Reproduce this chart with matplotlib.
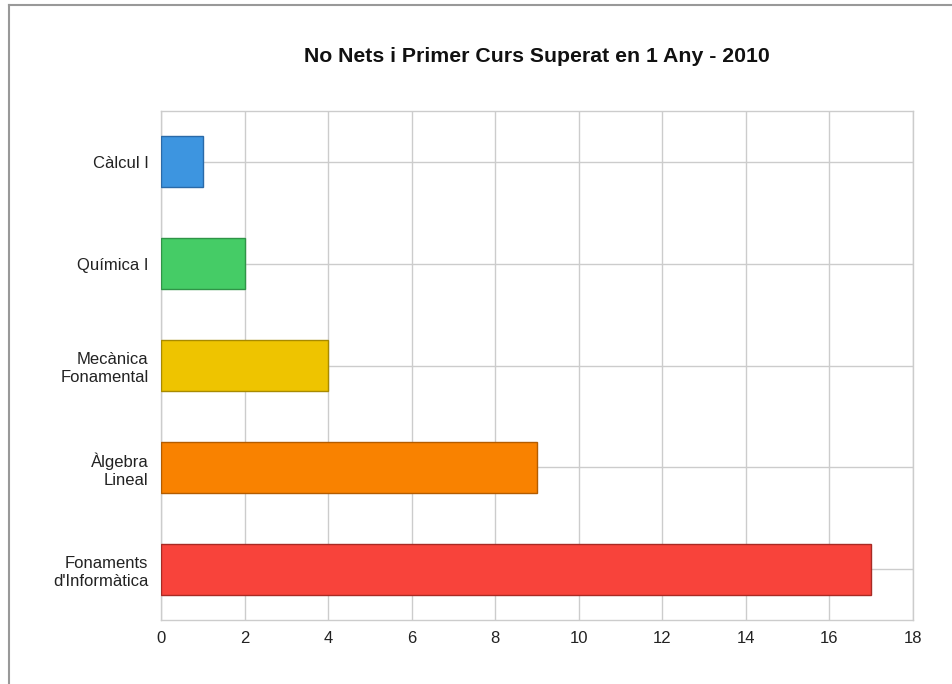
import matplotlib
matplotlib.use("Agg")
import matplotlib.pyplot as plt
from matplotlib.lines import Line2D

plt.rcParams['font.family'] = ['Liberation Sans', 'DejaVu Sans']

categories = ["Càlcul I", "Química I", "Mecànica\nFonamental", "Àlgebra\nLineal", "Fonaments\nd'Informàtica"]
values = [1, 2, 4, 9, 17]
colors = ["#3d95e0", "#45cc66", "#eec400", "#f98200", "#f8433b"]
edges = ["#2a6aa8", "#2f9447", "#a88a00", "#b35c00", "#a82a24"]
xticks = [0, 2, 4, 6, 8, 10, 12, 14, 16, 18]
title = "No Nets i Primer Curs Superat en 1 Any - 2010"

fig = plt.figure(figsize=(9.53, 6.84), dpi=100)
ax = fig.add_axes([161 / 953, 1 - 620 / 684, (913 - 161) / 953, (620 - 111) / 684])

ypos = list(range(len(categories)))
ax.barh(ypos, values, height=0.5, color=colors, edgecolor=edges, linewidth=1.0, zorder=3)

ax.set_ylim(len(categories) - 0.5, -0.5)
ax.set_xlim(0, 18)
ax.set_xticks(xticks)
ax.set_yticks(ypos)
ax.set_yticklabels(categories, fontsize=12, color="#222222", linespacing=1.25)
ax.tick_params(axis='x', labelsize=12, labelcolor="#222222", length=0, pad=8)
ax.tick_params(axis='y', length=0, pad=9)
ax.grid(True, color="#cccccc", linewidth=1.0, zorder=0)
for s in ax.spines.values():
    s.set_color("#cccccc")
    s.set_linewidth(1.0)

fig.text((161 + 913) / 2 / 953, 1 - 56 / 684, title, ha='center', va='center',
         fontsize=15.3, fontweight='bold', color="#111111")

# outer frame along the top and left edges
fig.add_artist(Line2D([9 / 953, 9 / 953], [0, 1 - 5 / 684], transform=fig.transFigure,
                      color="#999999", linewidth=1.5))
fig.add_artist(Line2D([9 / 953, 1], [1 - 5 / 684, 1 - 5 / 684], transform=fig.transFigure,
                      color="#999999", linewidth=1.5))

fig.savefig("out.png", dpi=100, facecolor="white")
